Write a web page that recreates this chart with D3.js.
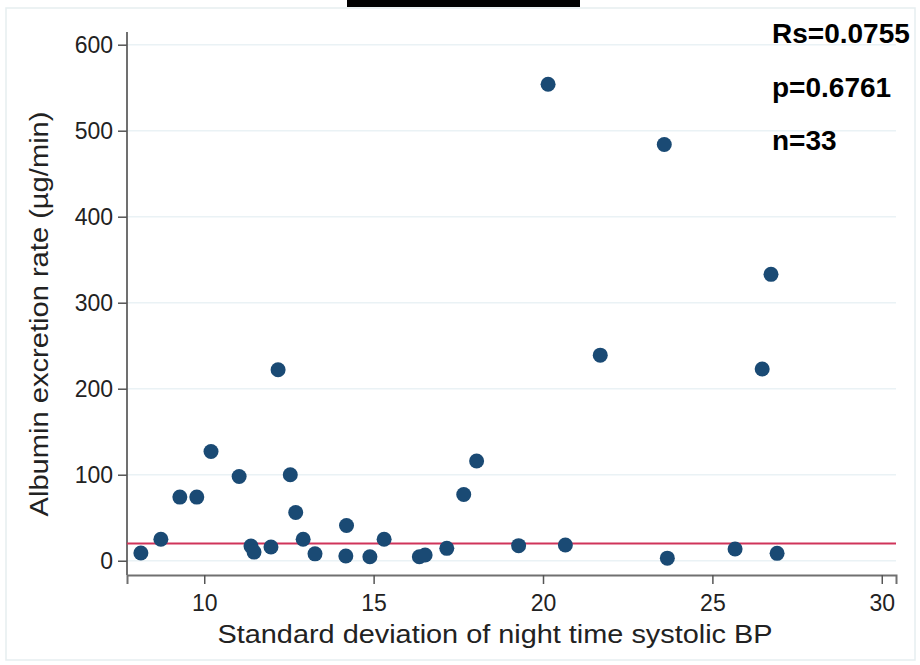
<!DOCTYPE html>
<html>
<head>
<meta charset="utf-8">
<script src="https://cdn.jsdelivr.net/npm/d3@7"></script>
<style>
  body { margin: 0; background: #fff; }
  svg text { font-family: "Liberation Sans", Arial, sans-serif; }
</style>
</head>
<body>
<div class="container"></div>
<script>
// SD of night time systolic BP vs albumin excretion rate
var sdNight = [8.13, 8.72, 9.28, 9.78, 10.2, 11.03, 11.38, 11.47, 11.97, 12.18, 12.54,
    12.7, 12.92, 13.27, 14.2, 14.18, 14.89, 15.31, 16.35, 16.52, 17.16, 17.66, 18.04,
    19.28, 20.66, 20.15, 21.69, 23.58, 23.67, 25.67, 26.91, 26.47, 26.73];
var aer = [9, 25, 74, 74, 127, 98, 17, 10, 16, 222, 100,
    56, 25, 8, 41, 5.5, 4.7, 25, 4.7, 6.6, 14.4, 77, 116,
    17.5, 18.2, 554, 239, 484, 3, 13.6, 8.6, 223, 333];
var xTicks = [10, 15, 20, 25, 30];
var yTicks = [0, 100, 200, 300, 400, 500, 600];
var refLine = 20;
var stats = ['Rs=0.0755', 'p=0.6761', 'n=33'];

var width = 920, height = 665;

var svg = d3.select('.container')
    .append('svg')
    .attr('width', width)
    .attr('height', height);

var x = d3.scaleLinear().domain([7.72, 30.42]).range([127, 896]);
var y = d3.scaleLinear().domain([-16.6, 600]).range([575, 44.7]);

// outer frame + black strip at top
svg.append('rect')
    .attr('x', 6).attr('y', 8)
    .attr('width', 909).attr('height', 652)
    .style('fill', 'none')
    .style('stroke', '#e6eef0')
    .style('stroke-width', 1.5);

svg.append('rect')
    .attr('x', 347).attr('y', 0)
    .attr('width', 233).attr('height', 7)
    .style('fill', '#000');

// gridlines
svg.selectAll('.grid')
    .data(yTicks)
    .enter()
    .append('line')
    .attr('class', 'grid')
    .attr('x1', 128)
    .attr('x2', 896)
    .attr('y1', d => y(d))
    .attr('y2', d => y(d))
    .style('stroke', '#eaf2f5')
    .style('stroke-width', 1.5);

// axes
var yAxis = svg.append('g')
    .attr('transform', 'translate(127,0)')
    .call(d3.axisLeft(y).tickValues(yTicks).tickSize(9).tickPadding(5));

var xAxis = svg.append('g')
    .attr('transform', 'translate(0,575)')
    .call(d3.axisBottom(x).tickValues(xTicks).tickSize(9).tickPadding(11));

[yAxis, xAxis].forEach(function(g) {
    g.select('.domain').style('stroke', '#707070').style('stroke-width', 2);
    g.selectAll('.tick line').style('stroke', '#555').style('stroke-width', 1.5);
    g.selectAll('.tick text')
        .style('font-size', '23px')
        .style('fill', '#222')
        .style('font-family', '"Liberation Sans", Arial, sans-serif');
});
// y domain line should reach top of plot
yAxis.select('.domain').attr('d', 'M0,' + 32 + 'V575');

// reference line
svg.append('line')
    .attr('x1', x(7.72))
    .attr('x2', x(30.42))
    .attr('y1', y(refLine))
    .attr('y2', y(refLine))
    .style('stroke', '#d0345a')
    .style('stroke-width', 2);

// points
svg.selectAll('circle')
    .data(sdNight)
    .enter()
    .append('circle')
    .attr('cx', d => x(d))
    .attr('cy', (d, i) => y(aer[i]))
    .attr('r', 7.5)
    .style('fill', '#1a4a74');

// axis titles (reference glyphs are a bit wider than Arial, so stretch)
svg.append('text')
    .attr('x', 495)
    .attr('y', 643)
    .attr('text-anchor', 'middle')
    .attr('textLength', 555)
    .attr('lengthAdjust', 'spacingAndGlyphs')
    .style('font-size', '25px')
    .style('fill', '#222')
    .text('Standard deviation of night time systolic BP');

svg.append('text')
    .attr('transform', 'translate(48,314) rotate(-90)')
    .attr('text-anchor', 'middle')
    .attr('textLength', 405)
    .attr('lengthAdjust', 'spacingAndGlyphs')
    .style('font-size', '25px')
    .style('fill', '#222')
    .text('Albumin excretion rate (µg/min)');

// stats
svg.selectAll('.stat')
    .data(stats)
    .enter()
    .append('text')
    .attr('class', 'stat')
    .attr('x', 772)
    .attr('y', (d, i) => 43 + i * 53.5)
    .style('font-size', '28px')
    .style('font-weight', 'bold')
    .style('fill', '#000')
    .text(d => d);
</script>
</body>
</html>
